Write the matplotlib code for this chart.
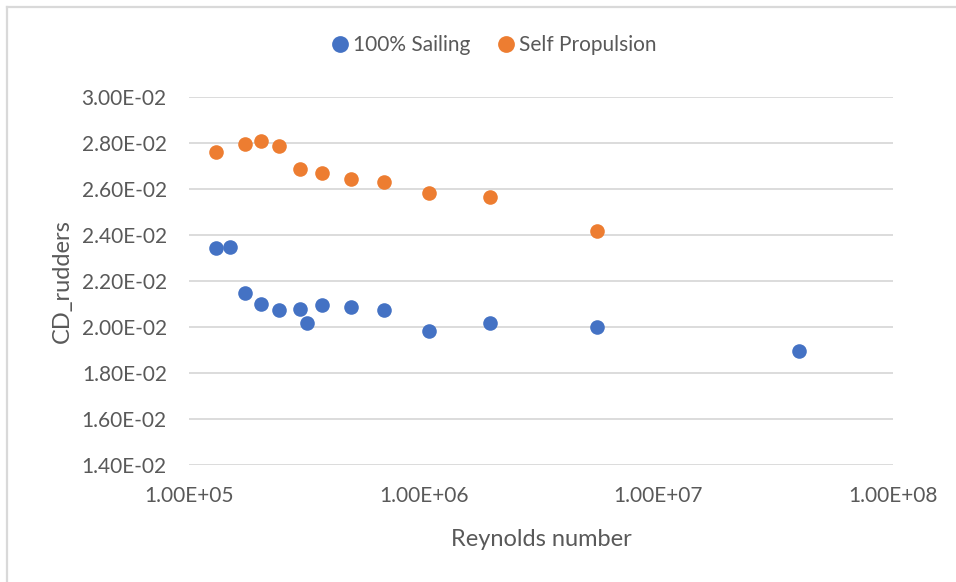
import matplotlib
matplotlib.use("Agg")
import matplotlib.pyplot as plt
from matplotlib.lines import Line2D
from matplotlib.ticker import FixedLocator, FuncFormatter

plt.rcParams['font.family'] = ['Lato', 'DejaVu Sans']

# Drag coefficient of the rudders vs Reynolds number
sailing_re = [1.307e5, 1.495e5, 1.727e5, 2.033e5, 2.418e5, 2.963e5, 3.183e5,
              3.698e5, 4.887e5, 6.795e5, 1.056e6, 1.922e6, 5.474e6, 3.985e7]
sailing_cd = [0.02342, 0.02347, 0.02147, 0.02101, 0.02074, 0.02078, 0.02017,
              0.02097, 0.02086, 0.02074, 0.01984, 0.02017, 0.02001, 0.01894]

selfprop_re = [1.307e5, 1.727e5, 2.033e5, 2.418e5, 2.963e5, 3.698e5, 4.887e5,
               6.795e5, 1.056e6, 1.922e6, 5.474e6]
selfprop_cd = [0.02760, 0.02794, 0.02809, 0.02788, 0.02688, 0.02671, 0.02642,
               0.02632, 0.02583, 0.02564, 0.02419]

x_ticks = [1e5, 1e6, 1e7, 1e8]
y_ticks = [0.014, 0.016, 0.018, 0.020, 0.022, 0.024, 0.026, 0.028, 0.030]

BLUE = '#4472C4'
ORANGE = '#ED7D31'
TEXT = '#595959'
GRID = '#D9D9D9'

W, H = 956, 582
fig = plt.figure(figsize=(W / 100, H / 100), dpi=100)
fig.patch.set_facecolor('white')

# chart frame: top and left edges
fig.add_artist(Line2D([6.5 / W, 1.0], [1 - 6.5 / H, 1 - 6.5 / H],
                      transform=fig.transFigure, color='#D9D9D9', linewidth=1.6))
fig.add_artist(Line2D([6.5 / W, 6.5 / W], [0.0, 1 - 6.5 / H],
                      transform=fig.transFigure, color='#D9D9D9', linewidth=1.6))

ax = fig.add_axes([189 / W, (H - 465) / H, (893 - 189) / W, (465 - 97) / H])
ax.set_xscale('log')
ax.set_xlim(1e5, 1e8)
ax.set_ylim(0.014, 0.030)

ax.xaxis.set_major_locator(FixedLocator(x_ticks))
ax.xaxis.set_minor_locator(FixedLocator([]))
ax.yaxis.set_major_locator(FixedLocator(y_ticks))
ax.xaxis.set_major_formatter(FuncFormatter(lambda v, p: f"{v:.2E}"))
ax.yaxis.set_major_formatter(FuncFormatter(lambda v, p: f"{v:.2E}"))

ax.grid(axis='y', color=GRID, linewidth=1.3)
ax.set_axisbelow(True)
for s in ax.spines.values():
    s.set_visible(False)
ax.tick_params(length=0, labelsize=15, colors=TEXT)
ax.tick_params(axis='y', pad=16)
ax.tick_params(axis='x', pad=15)

ax.plot(sailing_re, sailing_cd, 'o', color=BLUE, markersize=10.5,
        markeredgewidth=0, label='100% Sailing', clip_on=False, zorder=3)
ax.plot(selfprop_re, selfprop_cd, 'o', color=ORANGE, markersize=10.5,
        markeredgewidth=0, label='Self Propulsion', clip_on=False, zorder=3)

ax.set_xlabel('Reynolds number', fontsize=17, color=TEXT, labelpad=17)
ax.set_ylabel('CD_rudders', fontsize=17, color=TEXT, labelpad=6)

leg = fig.legend(loc='center', bbox_to_anchor=(493 / W, 1 - 45 / H), ncol=2,
                 frameon=False, fontsize=15, handletextpad=0.1,
                 columnspacing=1.25, handlelength=1.0, markerscale=1.15)
for t in leg.get_texts():
    t.set_color(TEXT)

fig.savefig('out.png', dpi=100, facecolor='white')
